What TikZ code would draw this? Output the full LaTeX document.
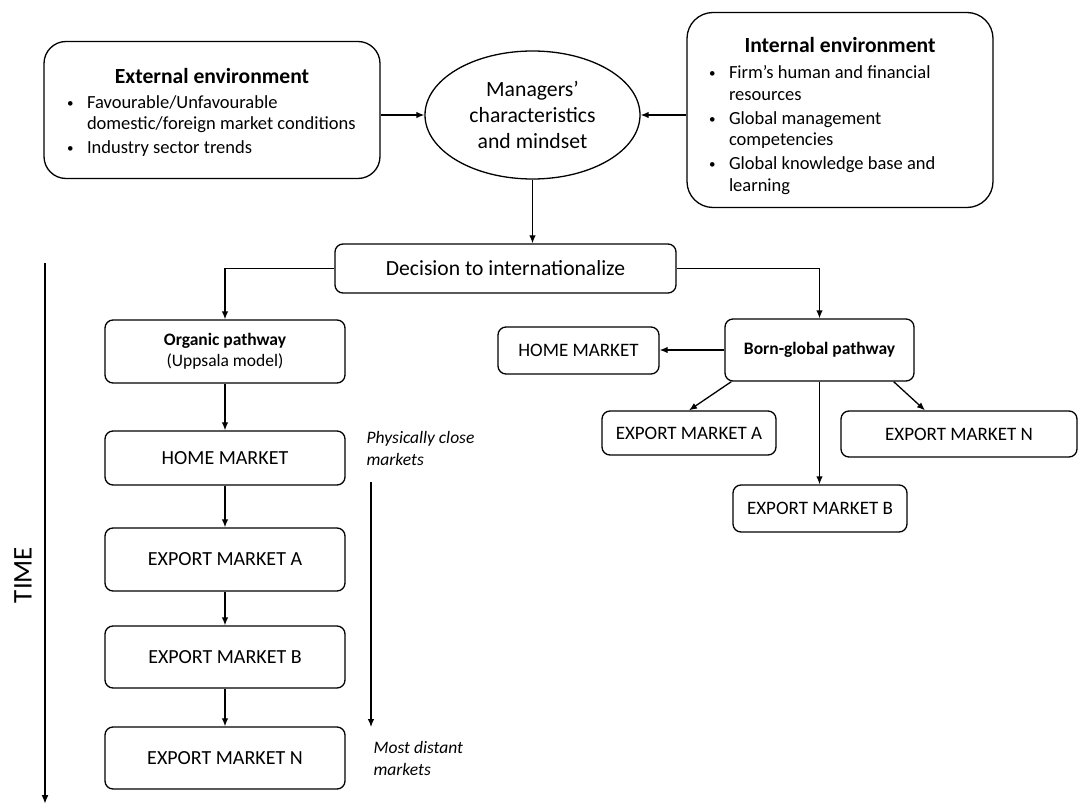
\documentclass[tikz,border=0pt]{standalone}
\usepackage{fontspec}
\setmainfont{Carlito}
\usetikzlibrary{shapes.geometric,arrows.meta}
\newcommand\fs[2]{\fontsize{#1}{#2}\selectfont}
\newcommand\bitem[1]{\par\vspace{2.5pt}\hangindent=20pt\hangafter=1\noindent\makebox[20pt][l]{\raisebox{1pt}{\fs{13}{13}\textbullet}}#1}
\begin{document}
\begin{tikzpicture}[x=1pt,y=-1pt,
  line width=1.3pt,
  arr/.style={-{Latex[length=8pt,width=6.5pt]}},
  bigbox/.style={draw,rounded corners=22pt,inner sep=0pt},
  smallbox/.style={draw,rounded corners=8pt,inner sep=0pt,align=center},
  lbox/.style={smallbox,minimum width=240pt,font=\fs{20}{24}},
  rbox/.style={smallbox,font=\fs{19}{23}},
  note/.style={anchor=north west,inner sep=0pt,align=left,font=\fs{17.5}{22}\itshape}
]
\useasboundingbox (0,0) rectangle (1090,805);

% top row
\node[bigbox,minimum width=336pt,minimum height=137pt] (ext) at (212,110) {%
  \begin{minipage}{290pt}\vspace*{4pt}\centering\fs{21.6}{26}\bfseries External environment\par
  \vspace{2pt}\raggedright\fs{18.5}{21}\mdseries
  \bitem{Favourable/Unfavourable\newline domestic/foreign market conditions}
  \bitem{Industry sector trends}
  \end{minipage}};
\node[draw,ellipse,inner sep=0pt,minimum width=215pt,minimum height=128pt,align=center,font=\fs{21.7}{26}] (man) at (532.5,115) {Managers’\\characteristics\\and mindset};
\node[bigbox,rounded corners=26pt,minimum width=306pt,minimum height=195pt] (int) at (840,110) {%
  \begin{minipage}{262pt}\vspace*{12pt}\centering\fs{21.6}{26}\bfseries Internal environment\par
  \vspace{2pt}\raggedright\fs{18.5}{21.5}\mdseries
  \bitem{Firm’s human and financial\newline resources}
  \bitem{Global management\newline competencies}
  \bitem{Global knowledge base and\newline learning}
  \end{minipage}};

\node[smallbox,minimum width=341pt,minimum height=49pt,font=\fs{21.6}{26}] (dec) at (505.5,268.5) {Decision to internationalize};

% organic pathway
\node[lbox,minimum height=63pt,font=\fs{17.5}{21}] (org) at (225,351.5) {\textbf{Organic pathway}\\(Uppsala model)};
\node[lbox,minimum height=54pt] (hmL) at (225,458) {HOME MARKET};
\node[lbox,minimum height=63pt] (eaL) at (225,559.5) {EXPORT MARKET A};
\node[lbox,minimum height=62pt] (ebL) at (225,657) {EXPORT MARKET B};
\node[lbox,minimum height=62pt] (enL) at (225,758) {EXPORT MARKET N};

% born-global pathway
\node[smallbox,minimum width=189pt,minimum height=62pt,font=\fs{17.5}{21}\bfseries] (bg) at (819.5,350) {Born-global pathway};
\node[rbox,minimum width=161pt,minimum height=47pt] (hmR) at (578.5,350.5) {HOME MARKET};
\node[rbox,minimum width=174pt,minimum height=44pt] (eaR) at (689,433) {EXPORT MARKET A};
\node[rbox,minimum width=236pt,minimum height=46pt] (enR) at (959,434) {EXPORT MARKET N};
\node[rbox,minimum width=174pt,minimum height=47pt] (ebR) at (820,508.5) {EXPORT MARKET B};

% connectors
\draw[arr] (ext.east |- man) -- (man.west);
\draw[arr] (int.west |- man) -- (man.east);
\draw[arr] (man.south) -- (man.south |- dec.north);
\draw[arr] (dec.west) -| (org.north);
\draw[arr] (dec.east) -| (bg.north);
\draw[arr] (org) -- (hmL);
\draw[arr] (hmL) -- (eaL);
\draw[arr] (eaL) -- (ebL);
\draw[arr] (ebL) -- (enL);
\draw[arr] (bg.west) -- (bg.west -| hmR.east);
\draw[arr] ([xshift=7pt]bg.south west) -- (eaR.north);
\draw[arr] ([xshift=-21pt]bg.south east) -- ([xshift=-34pt]enR.north);
\draw[arr] (bg.south) -- (bg.south |- ebR.north);

% distance annotation
\node[note] (close) at (366,431) {Physically close\\markets};
\node[note] (far) at (373,741) {Most distant\\markets};
\coordinate (dtop) at (371,482);
\coordinate (dbot) at (371,727);
\draw[arr,line width=1.1pt] (dtop) -- (dbot);

% time axis
\coordinate (ttop) at (45,263);
\coordinate (tbot) at (45,804);
\draw[-{Latex[length=9pt,width=7pt]},line width=2.6pt] (ttop) -- (tbot);
\node[rotate=90,font=\fs{27}{30}] (time) at (23,575) {TIME};
\end{tikzpicture}
\end{document}
